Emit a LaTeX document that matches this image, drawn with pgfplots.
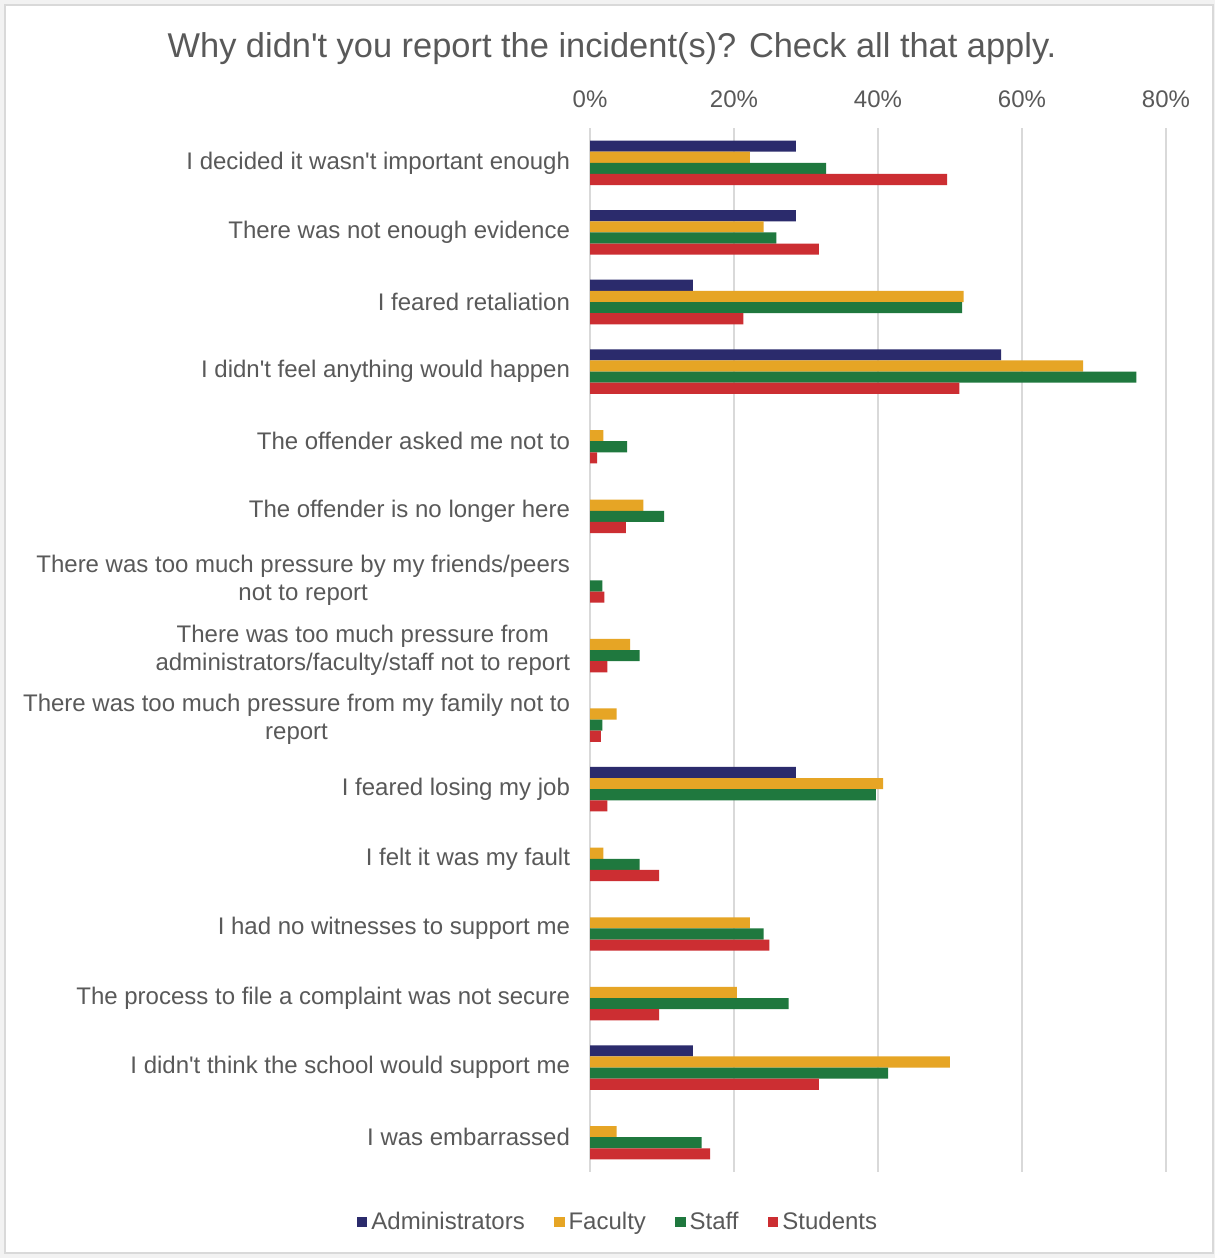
\documentclass[border=0pt]{standalone}
\usepackage{fontspec}
\setmainfont{Liberation Sans}
\usepackage{pgfplots}
\pgfplotsset{compat=1.18}
\definecolor{adm}{HTML}{2B2B6C}
\definecolor{fac}{HTML}{E6A525}
\definecolor{stf}{HTML}{1F783E}
\definecolor{stu}{HTML}{CC2E32}
\definecolor{txt}{HTML}{595959}
\definecolor{gridc}{HTML}{D9D9D9}
\definecolor{outer}{HTML}{F2F2F2}
\newcommand{\q}{\textquotesingle}
\begin{document}
\begin{tikzpicture}
\fill[outer] (0,0) rectangle (607.5bp,629bp);
\filldraw[fill=white, draw=gridc, line width=1bp] (2.5bp,2.5bp) rectangle (606.5bp,626.5bp);
\path[use as bounding box] (0,0) rectangle (607.5bp,629bp);
\node[text=txt, font=\fontsize{17.2bp}{20bp}\selectfont] at (306bp,604.5bp) {Why didn\q t you report the incident(s)? Check all that apply.};
\begin{axis}[
  at={(295bp,43bp)}, anchor=south west,
  scale only axis, width=288bp, height=522bp,
  xmin=0, xmax=80, ymin=0.5, ymax=15.5, y dir=reverse,
  xbar, bar width=0.16,
  xtick={0,20,40,60,80}, xticklabel pos=right,
  xticklabel={\pgfmathprintnumber{\tick}\%},
  /pgf/number format/assume math mode=true,
  xticklabel style={anchor=base, yshift=10.5bp, text=txt, font=\fontsize{12bp}{14bp}\selectfont},
  ytick={1,...,15},
  yticklabels={
    {I decided it wasn\q t important enough},
    {There was not enough evidence},
    {I feared retaliation},
    {I didn\q t feel anything would happen},
    {The offender asked me not to},
    {The offender is no longer here},
    {There was too much pressure by my friends/peers\\not to report},
    {There was too much pressure from\\administrators/faculty/staff not to report},
    {There was too much pressure from my family not to\\report},
    {I feared losing my job},
    {I felt it was my fault},
    {I had no witnesses to support me},
    {The process to file a complaint was not secure},
    {I didn\q t think the school would support me},
    {I was embarrassed}},
  yticklabel style={anchor=east, align=center, xshift=-6.5bp, text=txt, font=\fontsize{12bp}{14bp}\selectfont},
  major tick length=0pt,
  xmajorgrids, major grid style={draw=gridc, line width=1bp},
  axis line style={draw=none},
  legend columns=4,
  legend image code/.code={\path[fill, draw=none] (0bp,-2.6bp) rectangle (5.2bp,2.6bp);},
  legend style={at={(0.0505,-0.048)}, anchor=center, draw=none, fill=none,
    font=\fontsize{12bp}{14bp}\selectfont, text=txt,
    /tikz/every even column/.append style={column sep=12.7bp}},
]
\addplot[fill=adm, draw=none, bar shift=-0.24] coordinates {
 (28.6,1) (28.6,2) (14.3,3) (57.1,4) (28.6,10) (14.3,14)};
\addplot[fill=fac, draw=none, bar shift=-0.08] coordinates {
 (22.2,1) (24.1,2) (51.9,3) (68.5,4) (1.85,5) (7.4,6) (5.56,8) (3.7,9) (40.7,10) (1.85,11) (22.2,12) (20.4,13) (50.0,14) (3.7,15)};
\addplot[fill=stf, draw=none, bar shift=0.08] coordinates {
 (32.8,1) (25.9,2) (51.7,3) (75.9,4) (5.17,5) (10.3,6) (1.72,7) (6.9,8) (1.72,9) (39.7,10) (6.9,11) (24.1,12) (27.6,13) (41.4,14) (15.5,15)};
\addplot[fill=stu, draw=none, bar shift=0.24] coordinates {
 (49.6,1) (31.8,2) (21.3,3) (51.3,4) (1.0,5) (5.0,6) (2.0,7) (2.4,8) (1.5,9) (2.4,10) (9.6,11) (24.9,12) (9.6,13) (31.8,14) (16.7,15)};
\legend{Administrators, Faculty, Staff, Students}
\end{axis}
\end{tikzpicture}
\end{document}
